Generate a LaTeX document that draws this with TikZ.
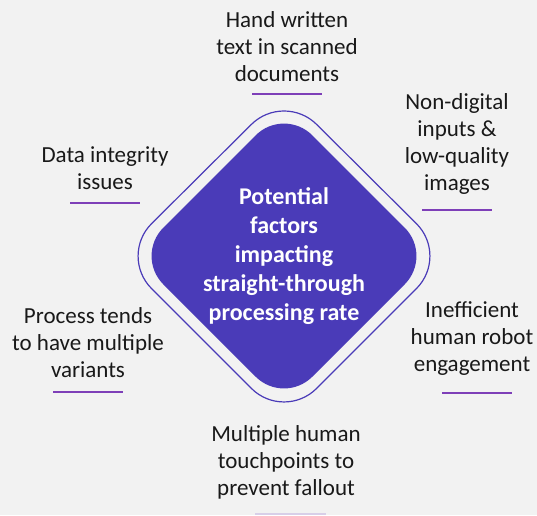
\documentclass[tikz,border=0pt]{standalone}
\usepackage{fontspec}
\setmainfont{Carlito}
\definecolor{paper}{HTML}{F2F2F2}
\definecolor{indigo}{HTML}{4A3BB8}
\definecolor{violet}{HTML}{7E3FB8}
\definecolor{lavender}{HTML}{D8CFE8}
\tikzset{
  factor/.style={align=center, text=black!90, font=\fontsize{23}{27}\selectfont},
  core/.style={align=center, text=white, font=\bfseries\fontsize{24}{29}\selectfont},
  underline/.style={draw=violet, line width=2pt}
}
\begin{document}
\begin{tikzpicture}[x=1pt,y=-1pt]
      \fill[paper] (0,0) rectangle (537,515);
      \useasboundingbox (0,0) rectangle (537,515);
      % diamonds
      \draw[indigo, line width=1.2pt, rounded corners=46]
        (284,92) -- (449,256) -- (284,421) -- (119,256) -- cycle;
      \fill[indigo, rounded corners=40]
        (284,107) -- (433,256) -- (284,405) -- (135,256) -- cycle;
      \draw
        (284,256) node[core] (centre){Potential\\factors\\impacting\\straight-through\\processing rate}
        (287,47) node[factor] (handwritten){Hand written\\text in scanned\\documents}
        (457,144) node[factor] (nondigital){Non-digital\\inputs \&\\low-quality\\images}
        (105,168) node[factor] (integrity){Data integrity\\issues}
        (88,343) node[factor] (variants){Process tends\\to have multiple\\variants}
        (472,339) node[factor] (engagement){Inefficient\\human robot\\engagement}
        (286,462) node[factor] (touchpoints){Multiple human\\touchpoints to\\prevent fallout};
      \begin{scope}[underline]
        \draw (252,94) coordinate (h1) -- (322,94) coordinate (h2);
        \draw (422,210) coordinate (n1) -- (492,210) coordinate (n2);
        \draw (70,203) coordinate (d1) -- (140,203) coordinate (d2);
        \draw (53,392) coordinate (p1) -- (123,392) coordinate (p2);
        \draw (442,393) coordinate (e1) -- (512,393) coordinate (e2);
        \draw[draw=lavender] (255,514) coordinate (m1) -- (326,514) coordinate (m2);
      \end{scope}
    \end{tikzpicture}
\end{document}
